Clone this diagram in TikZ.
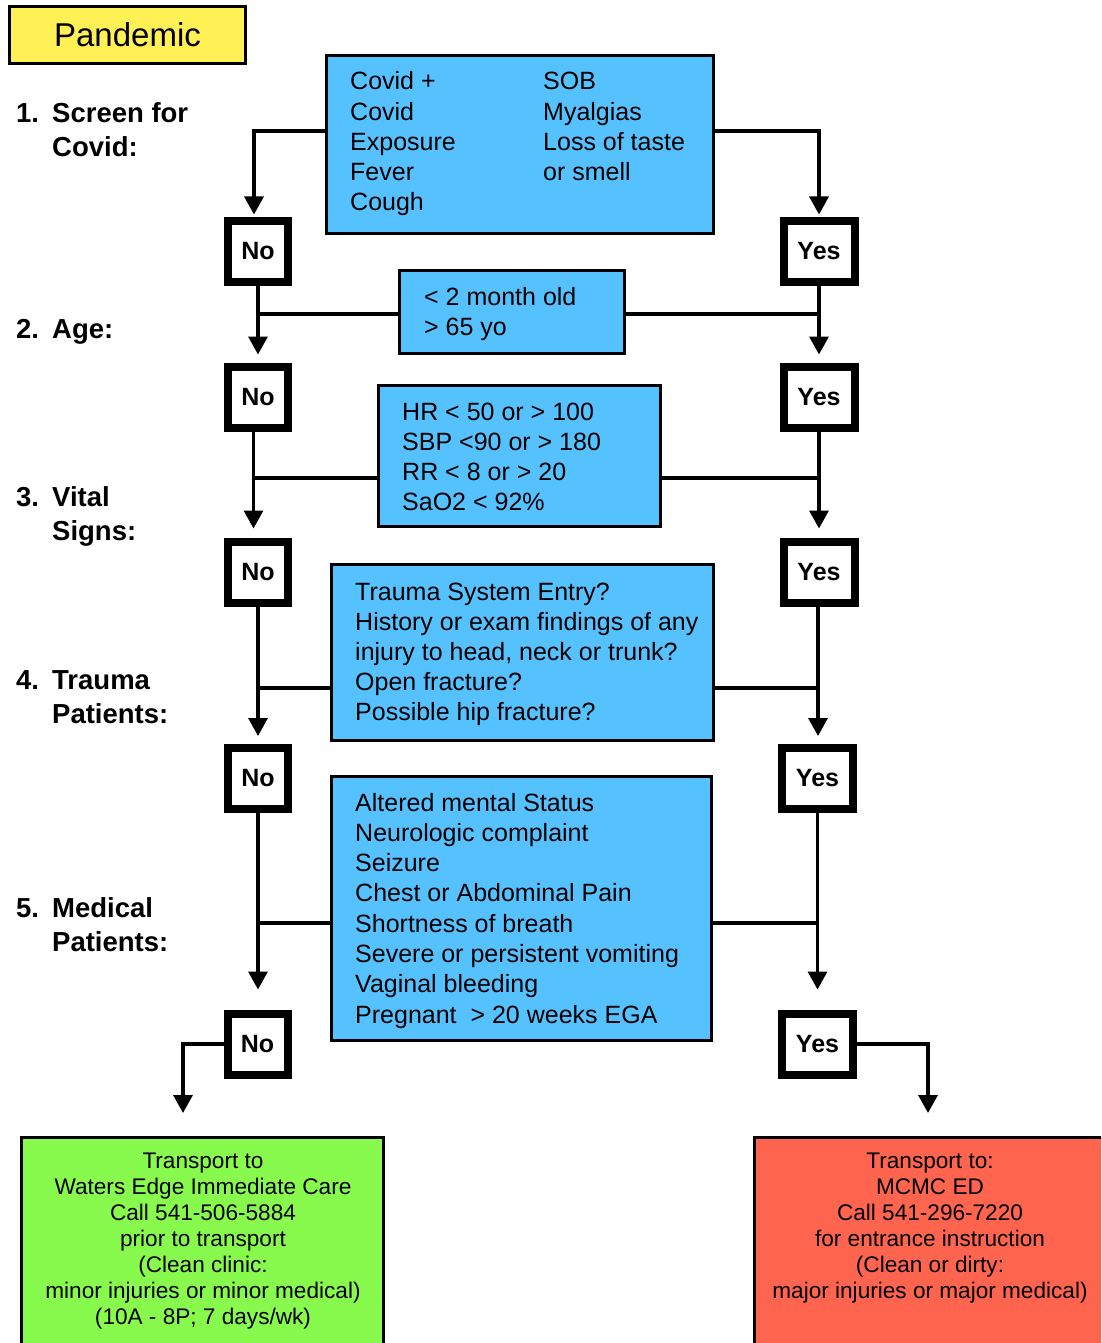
\documentclass[tikz,border=0pt]{standalone}
\usepackage{fontspec}
\setmainfont{Liberation Sans}
\usetikzlibrary{arrows.meta,calc}
\definecolor{kblue}{HTML}{56C1FF}
\definecolor{kyellow}{HTML}{FFF056}
\definecolor{kgreen}{HTML}{88FA4E}
\definecolor{kred}{HTML}{FF644E}
\begin{document}
\begin{tikzpicture}[x=1pt,y=-1pt,
  cbox/.style={draw=black, line width=3pt, outer sep=1.5pt, inner sep=0pt},
  ans/.style={draw=black, line width=8pt, outer sep=4pt, fill=white, inner sep=0pt,
    font=\fontsize{25}{30}\selectfont\bfseries, minimum height=61pt},
  nobox/.style={ans, minimum width=60pt},
  yesbox/.style={ans, minimum width=71pt},
  txt/.style={inner sep=0pt, anchor=base west, font=\fontsize{25}{30.2}\selectfont},
  lbl/.style={inner sep=0pt, anchor=base west, font=\fontsize{27.5}{34}\selectfont\bfseries},
  ctxt/.style={inner sep=0pt, anchor=base, font=\fontsize{22.6}{26.1}\selectfont},
  con/.style={line width=3.3pt},
  arr/.style={con, -{Triangle[length=18pt,width=19pt]}},
]
\useasboundingbox (0,0) rectangle (1101,1343);
\clip (0,0) rectangle (1101,1343);

% title
\node[cbox, fill=kyellow, minimum width=236pt, minimum height=57pt,
  font=\fontsize{33}{40}\selectfont] (title) at (127.5,35) {Pandemic};

% left labels
\node[lbl] (l1) at (16,123) {\begin{tabular}[t]{@{}l@{}}\makebox[36pt][l]{1.}Screen for\\\hspace*{36pt}Covid:\end{tabular}};
\node[lbl] (l2) at (16,338) {\makebox[36pt][l]{2.}Age:};
\node[lbl] (l3) at (16,506) {\begin{tabular}[t]{@{}l@{}}\makebox[36pt][l]{3.}Vital\\\hspace*{36pt}Signs:\end{tabular}};
\node[lbl] (l4) at (16,689) {\begin{tabular}[t]{@{}l@{}}\makebox[36pt][l]{4.}Trauma\\\hspace*{36pt}Patients:\end{tabular}};
\node[lbl] (l5) at (16,917) {\begin{tabular}[t]{@{}l@{}}\makebox[36pt][l]{5.}Medical\\\hspace*{36pt}Patients:\end{tabular}};

% criteria boxes
\node[cbox, fill=kblue, minimum width=387pt, minimum height=178pt] (covid) at (520,144.5) {};
\node[txt] (covidL) at (350,90) {\begin{tabular}[t]{@{}l@{}}Covid +\\Covid\\Exposure\\Fever\\Cough\end{tabular}};
\node[txt] (covidR) at (543,90) {\begin{tabular}[t]{@{}l@{}}SOB\\Myalgias\\Loss of taste\\or smell\end{tabular}};

\node[cbox, fill=kblue, minimum width=225pt, minimum height=83pt] (age) at (512,312) {};
\node[txt] (ageT) at (424,305) {\begin{tabular}[t]{@{}l@{}}< 2 month old\\> 65 yo\end{tabular}};

\node[cbox, fill=kblue, minimum width=282pt, minimum height=141pt] (vitals) at (519.5,456) {};
\node[txt] (vitalsT) at (402,420) {\begin{tabular}[t]{@{}l@{}}HR < 50 or > 100\\SBP <90 or > 180\\RR < 8 or > 20\\SaO2 < 92\%\end{tabular}};

\node[cbox, fill=kblue, minimum width=382pt, minimum height=176pt] (trauma) at (522.5,652.5) {};
\node[txt] (traumaT) at (355,600) {\begin{tabular}[t]{@{}l@{}}Trauma System Entry?\\History or exam findings of any\\injury to head, neck or trunk?\\Open fracture?\\Possible hip fracture?\end{tabular}};

\node[cbox, fill=kblue, minimum width=380pt, minimum height=264pt] (medical) at (521.5,908.5) {};
\node[txt, font=\fontsize{25}{30.3}\selectfont] (medicalT) at (355,811) {\begin{tabular}[t]{@{}l@{}}Altered mental Status\\Neurologic complaint\\Seizure\\Chest or Abdominal Pain\\Shortness of breath\\Severe or persistent vomiting\\Vaginal bleeding\\Pregnant\ \ > 20 weeks EGA\end{tabular}};

% answer boxes
\node[nobox] (no1) at (258,251) {No};
\node[nobox] (no2) at (258,397) {No};
\node[nobox] (no3) at (258,572) {No};
\node[nobox] (no4) at (258,778.5) {No};
\node[nobox] (no5) at (257.5,1044) {No};
\node[yesbox] (yes1) at (819,251) {Yes};
\node[yesbox] (yes2) at (819,397) {Yes};
\node[yesbox] (yes3) at (819,572) {Yes};
\node[yesbox] (yes4) at (817.5,778.5) {Yes};
\node[yesbox] (yes5) at (817.5,1044) {Yes};

% destinations
\node[cbox, fill=kgreen, minimum width=362pt, minimum height=221pt] (green) at (202.5,1248) {};
\node[ctxt] (greenT) at (203,1168) {\begin{tabular}[t]{@{}c@{}}Transport to\\Waters Edge Immediate Care\\Call 541-506-5884\\prior to transport\\(Clean clinic:\\minor injuries or minor medical)\\(10A - 8P; 7 days/wk)\end{tabular}};
\node[cbox, fill=kred, minimum width=365pt, minimum height=221pt] (red) at (937,1248) {};
\node[ctxt] (redT) at (930,1168) {\begin{tabular}[t]{@{}c@{}}Transport to:\\MCMC ED\\Call 541-296-7220\\for entrance instruction\\(Clean or dirty:\\major injuries or major medical)\end{tabular}};

% row 1
\draw[arr, shorten >=2pt] ([yshift=13.5pt]covid.west) -| ([xshift=-4pt]no1.north);
\draw[arr, shorten >=2pt] ([yshift=13.5pt]covid.east) -| (yes1.north);
% row 2
\draw[arr, shorten >=8pt] (no1.south) -- (no2.north);
\draw[con] ([yshift=-2pt]age.west) -- ([yshift=-2pt]age.west -| no1.south);
\draw[arr, shorten >=8pt] (yes1.south) -- (yes2.north);
\draw[con] ([yshift=-2pt]age.east) -- ([yshift=-2pt]age.east -| yes1.south);
% row 3
\coordinate (n3) at ([xshift=-4.5pt]no2.south);
\coordinate (v3w) at ([yshift=-22pt]vitals.west);
\coordinate (v3e) at ([yshift=-22pt]vitals.east);
\draw[arr, shorten >=9pt] (n3) -- (n3 |- no3.north);
\draw[con] (v3w) -- (v3w -| n3);
\draw[arr, shorten >=9pt] (yes2.south) -- (yes3.north);
\draw[con] (v3e) -- (v3e -| yes2.south);
% row 4
\coordinate (t4w) at ([yshift=-35.5pt]trauma.west);
\coordinate (t4e) at ([yshift=-35.5pt]trauma.east);
\draw[arr, shorten >=8pt] (no3.south) -- (no4.north);
\draw[con] (t4w) -- (t4w -| no3.south);
\draw[arr, shorten >=8pt] ([xshift=-1pt]yes3.south) -- ([xshift=-1pt]yes3.south |- yes4.north);
\draw[con] (t4e) -- (t4e -| yes4.north);
% row 5
\coordinate (m5w) at ([yshift=-14.5pt]medical.west);
\coordinate (m5e) at ([yshift=-14.5pt]medical.east);
\draw[arr, shorten >=20pt] (no4.south) -- (no4.south |- no5.north);
\draw[con] (m5w) -- (m5w -| no4.south);
\draw[arr, shorten >=20pt] (yes4.south) -- (yes5.north);
\draw[con] (m5e) -- (m5e -| yes4.south);
% to destinations
\coordinate (gA) at (183,1113);
\coordinate (rA) at (928,1113);
\draw[arr] (no5.west) -| (gA);
\draw[arr] (yes5.east) -| (rA);
\end{tikzpicture}
\end{document}
